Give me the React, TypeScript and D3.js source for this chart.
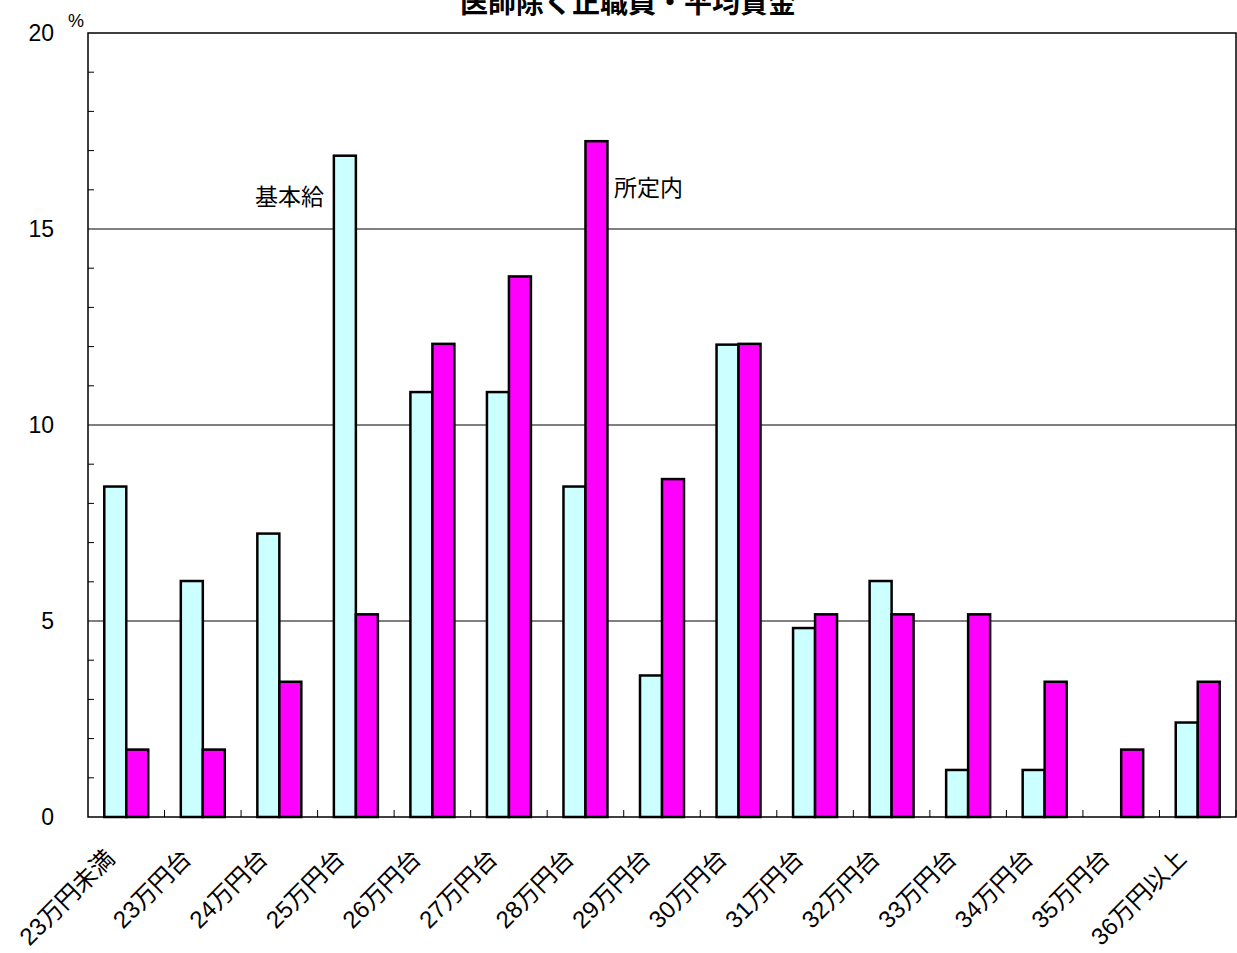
import * as d3 from "d3";
import { useEffect, useRef } from "react";

// 医師除く正職員・平均賃金 distribution (%)
const categories = [
  "23万円未満", "23万円台", "24万円台", "25万円台", "26万円台",
  "27万円台", "28万円台", "29万円台", "30万円台", "31万円台",
  "32万円台", "33万円台", "34万円台", "35万円台", "36万円以上",
];
const seriesNames = ["基本給", "所定内"];
const kihonkyu = [8.43, 6.02, 7.23, 16.87, 10.84, 10.84, 8.43, 3.61, 12.05, 4.82, 6.02, 1.2, 1.2, 0, 2.41];
const shoteinai = [1.72, 1.72, 3.45, 5.17, 12.07, 13.79, 17.24, 8.62, 12.07, 5.17, 5.17, 5.17, 3.45, 1.72, 3.45];
const yTicks = [0, 5, 10, 15, 20];
const colors = ["#CCFFFF", "#FF00FF"];

const FONT = "'Liberation Sans', Arial, 'Noto Sans CJK JP', sans-serif";

export default function App() {
  const ref = useRef<SVGSVGElement>(null);
  const width = 1237, height = 953;
  const left = 88, right = 1236, top = 33, bottom = 817;

  useEffect(() => {
    const svg = d3.select(ref.current);
    svg.selectAll("*").remove();

    const x = d3.scaleBand().domain(categories).range([left, right]).padding(0);
    const x1 = d3.scaleBand().domain(seriesNames).range([0, x.bandwidth()]).paddingInner(0).paddingOuter(0.74);
    const y = d3.scaleLinear().domain([0, 20]).range([bottom, top]);

    const g = svg.append("g").style("font-family", FONT);

    // gridlines
    g.selectAll("line.grid")
      .data(yTicks.filter(t => t > 0 && t < 20))
      .join("line")
      .attr("x1", left).attr("x2", right)
      .attr("y1", d => y(d)).attr("y2", d => y(d))
      .attr("stroke", "#000").attr("stroke-width", 1);

    // minor ticks on y axis
    g.selectAll("line.minor")
      .data(d3.range(1, 20).filter(v => v % 5 !== 0))
      .join("line")
      .attr("x1", left).attr("x2", left + 6)
      .attr("y1", d => y(d)).attr("y2", d => y(d))
      .attr("stroke", "#000").attr("stroke-width", 1);

    // category ticks
    const bounds = categories.map(c => x(c)!).concat([right]);
    g.selectAll("line.xtick")
      .data(bounds.slice(1))
      .join("line")
      .attr("x1", d => d).attr("x2", d => d)
      .attr("y1", bottom).attr("y2", bottom - 7)
      .attr("stroke", "#000").attr("stroke-width", 1);

    // bars
    const seriesData = [kihonkyu, shoteinai];
    seriesData.forEach((vals, si) => {
      g.append("g")
        .selectAll("rect")
        .data(vals)
        .join("rect")
        .attr("x", (_d, i) => x(categories[i])! + x1(seriesNames[si])!)
        .attr("y", d => y(d))
        .attr("width", x1.bandwidth())
        .attr("height", d => bottom - y(d))
        .attr("fill", colors[si])
        .attr("stroke", d => (d > 0 ? "#000" : "none"))
        .attr("stroke-width", 2.5);
    });

    // frame
    g.append("rect")
      .attr("x", left).attr("y", top)
      .attr("width", right - left).attr("height", bottom - top)
      .attr("fill", "none").attr("stroke", "#000").attr("stroke-width", 1.5);

    // y labels
    g.selectAll("text.ytick")
      .data(yTicks)
      .join("text")
      .attr("x", 54).attr("y", d => y(d))
      .attr("dy", "0.36em")
      .attr("text-anchor", "end")
      .style("font-size", "23px")
      .text(d => d);

    g.append("text")
      .attr("x", 76).attr("y", 27)
      .attr("text-anchor", "middle")
      .style("font-size", "18px")
      .text("%");

    // x labels
    g.selectAll("text.xlab")
      .data(categories)
      .join("text")
      .attr("transform", d => `translate(${x(d)! + x.bandwidth() / 2 - 10},${860}) rotate(-45)`)
      .attr("text-anchor", "end")
      .style("font-size", "24px")
      .text(d => d);

    // series labels
    g.append("text")
      .attr("x", 324).attr("y", 197)
      .attr("dy", "0.36em")
      .attr("text-anchor", "end")
      .style("font-size", "23px")
      .text(seriesNames[0]);
    g.append("text")
      .attr("x", 614).attr("y", 188)
      .attr("dy", "0.36em")
      .style("font-size", "23px")
      .text(seriesNames[1]);

    // title (cut off at top)
    g.append("text")
      .attr("x", 628).attr("y", 13)
      .attr("text-anchor", "middle")
      .style("font-size", "28px")
      .style("font-weight", "bold")
      .text("医師除く正職員・平均賃金");
  }, []);

  return (
    <div style={{ position: "absolute", left: 0, top: 0, background: "#fff" }}>
      <svg ref={ref} width={width} height={height} style={{ display: "block" }} />
    </div>
  );
}
